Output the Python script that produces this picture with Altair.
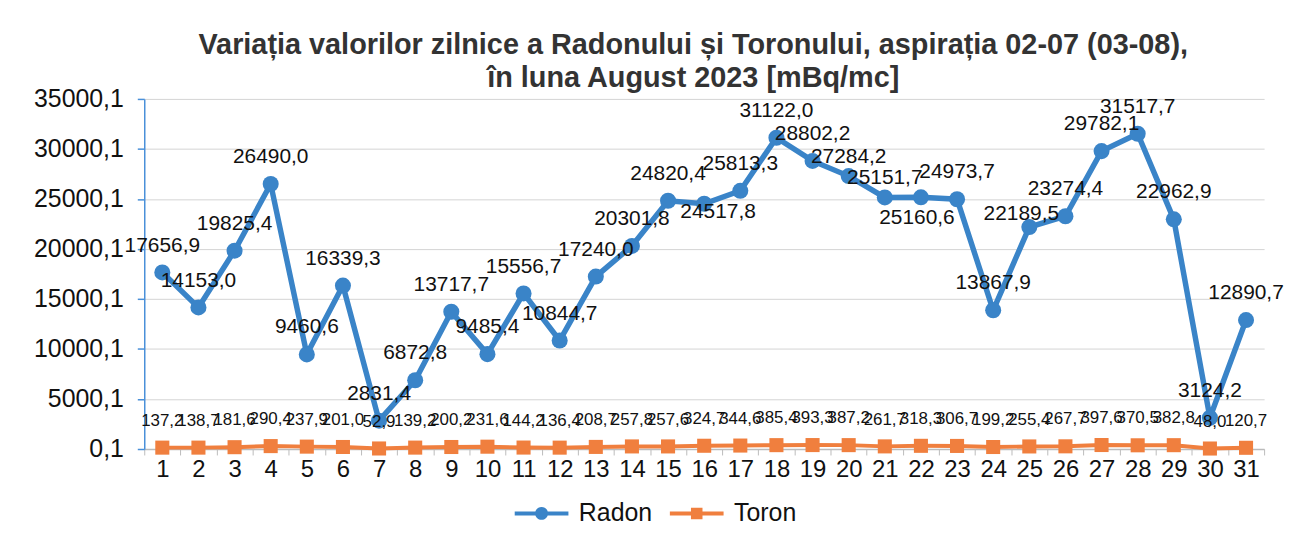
import altair as alt
import pandas as pd

days = list(range(1, 32))
radon = [17656.9, 14153.0, 19825.4, 26490.0, 9460.6, 16339.3, 2831.4, 6872.8,
         13717.7, 9485.4, 15556.7, 10844.7, 17240.0, 20301.8, 24820.4, 24517.8,
         25813.3, 31122.0, 28802.2, 27284.2, 25151.7, 25160.6, 24973.7, 13867.9,
         22189.5, 23274.4, 29782.1, 31517.7, 22962.9, 3124.2, 12890.7]
toron = [137.2, 138.7, 181.6, 290.4, 237.9, 201.0, 52.9, 139.2, 200.2, 231.6,
         144.2, 136.4, 208.7, 257.8, 257.6, 324.7, 344.6, 385.4, 393.3, 387.2,
         261.7, 318.3, 306.7, 199.2, 255.4, 267.7, 397.6, 370.5, 382.8, 48.0, 120.7]
series_names = ["Radon", "Toron"]
series_colors = ["#3A84C8", "#F07F3E"]
y_ticks = [0.1, 5000.1, 10000.1, 15000.1, 20000.1, 25000.1, 30000.1, 35000.1]
title_lines = ["Variația valorilor zilnice a Radonului și Toronului, aspirația 02-07 (03-08),",
               "în luna August 2023 [mBq/mc]"]

df_radon = pd.DataFrame({"day": days, "value": radon})
df_toron = pd.DataFrame({"day": days, "value": toron})
df_legend = pd.DataFrame({"day": [days[0], days[0]], "value": [radon[0], toron[0]],
                          "series": series_names})

# legend glyphs: a thin bar (the line) plus the marker, all filled, same winding
circle_path = ("M-2.7,-0.2H2.7V0.2H-2.7Z"
               "M-0.65,0A0.65,0.65 0 1,1 0.65,0A0.65,0.65 0 1,1 -0.65,0Z")
square_path = "M-2.7,-0.2H2.7V0.2H-2.7ZM-0.58,-0.58H0.58V0.58H-0.58Z"

x_enc = alt.X("day:O", bandPosition=0.5,
              scale=alt.Scale(type="band", paddingInner=0, paddingOuter=0),
              axis=alt.Axis(title=None, labelAngle=0, labelFontSize=24, labelColor="#111111",
                            labelPadding=3, domainColor="#BBBBBB", domainWidth=1.5,
                            tickColor="#BBBBBB", tickSize=6, tickBand="extent", grid=False))
y_enc = alt.Y("value:Q",
              scale=alt.Scale(domain=[0.1, 35000.1], nice=False, zero=False),
              axis=alt.Axis(title=None, values=y_ticks,
                            labelExpr="replace(format(datum.value, '.1f'), '.', ',')",
                            labelFontSize=25, labelColor="#111111", labelPadding=14,
                            domainColor="#4A90D9", domainWidth=1.5,
                            tickColor="#4A90D9", tickSize=7, tickWidth=1.5,
                            gridColor="#D4D4D4", gridWidth=1))
label_expr = "replace(format(datum.value, '.1f'), '.', ',')"

rad = alt.Chart(df_radon)
tor = alt.Chart(df_toron)

rad_line = rad.mark_line(color=series_colors[0], strokeWidth=5.5).encode(x=x_enc, y=y_enc)
tor_line = tor.mark_line(color=series_colors[1], strokeWidth=4).encode(x=x_enc, y=y_enc)
rad_pts = rad.mark_point(filled=True, opacity=1, shape="circle", size=260,
                         color=series_colors[0]).encode(x=x_enc, y=y_enc)
tor_pts = tor.mark_point(filled=True, opacity=1, shape="square", size=200,
                         color=series_colors[1]).encode(x=x_enc, y=y_enc)


def rad_labels(days_sel, exclude, dx, dy):
    pred = alt.FieldOneOfPredicate(field="day", oneOf=days_sel)
    c = rad.transform_filter(alt.LogicalNotPredicate(**{"not": pred}) if exclude else pred)
    return c.transform_calculate(label=label_expr).mark_text(
        fontSize=21, dx=dx, dy=dy, baseline="middle", color="#111111"
    ).encode(x=x_enc, y=y_enc, text="label:N")


# data labels sit above the points, a few were moved in the original chart
special = [16, 20, 21, 22, 25]
rad_lab = rad_labels(special, True, 0, -27)
rad_lab16 = rad_labels([16], False, 14, 8)
rad_lab2021 = rad_labels([20, 21], False, 0, -19)
rad_lab22 = rad_labels([22], False, -4, 21)
rad_lab25 = rad_labels([25], False, -8, -13)

tor_lab = tor.transform_calculate(label=label_expr).mark_text(
    fontSize=17, dy=-27, baseline="middle", color="#111111").encode(x=x_enc, y=y_enc, text="label:N")

col_scale = alt.Scale(domain=series_names, range=series_colors)
# legend-only layer: its rows are filtered out, the legend comes from the explicit scale domain
legend_layer = alt.Chart(df_legend).transform_filter("datum.day < 0").mark_point(
    filled=True, opacity=1).encode(
    x=x_enc, y=y_enc,
    color=alt.Color("series:N", scale=col_scale,
                    legend=alt.Legend(orient="none", legendX=387, legendY=404,
                                      direction="horizontal", title=None,
                                      labelFontSize=25, labelColor="#111111",
                                      symbolSize=400, symbolStrokeWidth=0, symbolOpacity=1,
                                      labelOffset=25, columnPadding=17)),
    shape=alt.Shape("series:N", scale=alt.Scale(domain=series_names,
                                                range=[circle_path, square_path])))

chart = alt.layer(rad_line, tor_line, rad_pts, tor_pts,
                  rad_lab, rad_lab16, rad_lab2021, rad_lab22, rad_lab25,
                  tor_lab, legend_layer).properties(
    width=1126, height=352,
    padding={"left": 137, "top": 90, "right": 20, "bottom": 76},
    autosize=alt.AutoSizeParams(type="none"),
    title=alt.Title(title_lines, fontSize=29, fontWeight="bold", color="#333333",
                    anchor="middle", dx=-11, dy=14, offset=8, lineHeight=33),
).configure(font="Liberation Sans").configure_view(stroke=None)

chart.save("out.html", embed_options={"renderer": "svg", "actions": False})
